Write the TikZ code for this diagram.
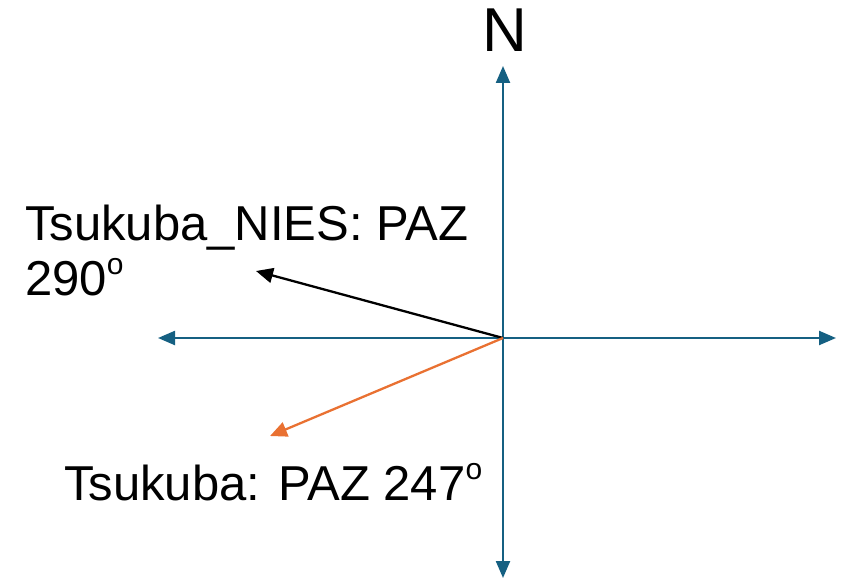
\documentclass[tikz,border=0pt]{standalone}
\usepackage{fontspec}
\setmainfont{Liberation Sans}
\usetikzlibrary{arrows.meta}
\definecolor{axisblue}{HTML}{156082}
\definecolor{dirorange}{HTML}{E97132}
\newcommand{\degsup}{\raisebox{0.42em}{\fontsize{30}{30}\selectfont o}}
\tikzset{
  axisline/.style={draw=axisblue, line width=2.3pt, -{Triangle[length=17pt,width=14pt]}},
  dirline/.style={line width=2.3pt, -{Triangle[length=17pt,width=15pt]}},
  lbl/.style={inner sep=0pt, font=\fontsize{49}{55}\selectfont, align=left},
}
\begin{document}
\begin{tikzpicture}[x=1pt,y=1pt]
\useasboundingbox (0,0) rectangle (848,-583);
\coordinate (c) at (503,-338);
\coordinate (top) at (503,-66);
\coordinate (bot) at (503,-578);
\coordinate (lft) at (158,-338);
\coordinate (rgt) at (836,-338);
\coordinate (nies) at (256,-271);
\coordinate (tsu) at (270,-436);
\draw[axisline] (c) -- (top);
\draw[axisline] (c) -- (bot);
\draw[axisline] (c) -- (lft);
\draw[axisline] (c) -- (rgt);
\draw[dirline, draw=black] (c) -- (nies);
\draw[dirline, draw=dirorange] (c) -- (tsu);
\node[inner sep=0pt, anchor=base, font=\fontsize{62}{70}\selectfont] (n) at (505,-52) {N};
\node[lbl, anchor=base west] (l1) at (25,-295) {Tsukuba\_NIES: PAZ\\290\degsup};
\node[lbl, anchor=base west] (l2) at (64,-500) {Tsukuba: PAZ 247\degsup};
\end{tikzpicture}
\end{document}
